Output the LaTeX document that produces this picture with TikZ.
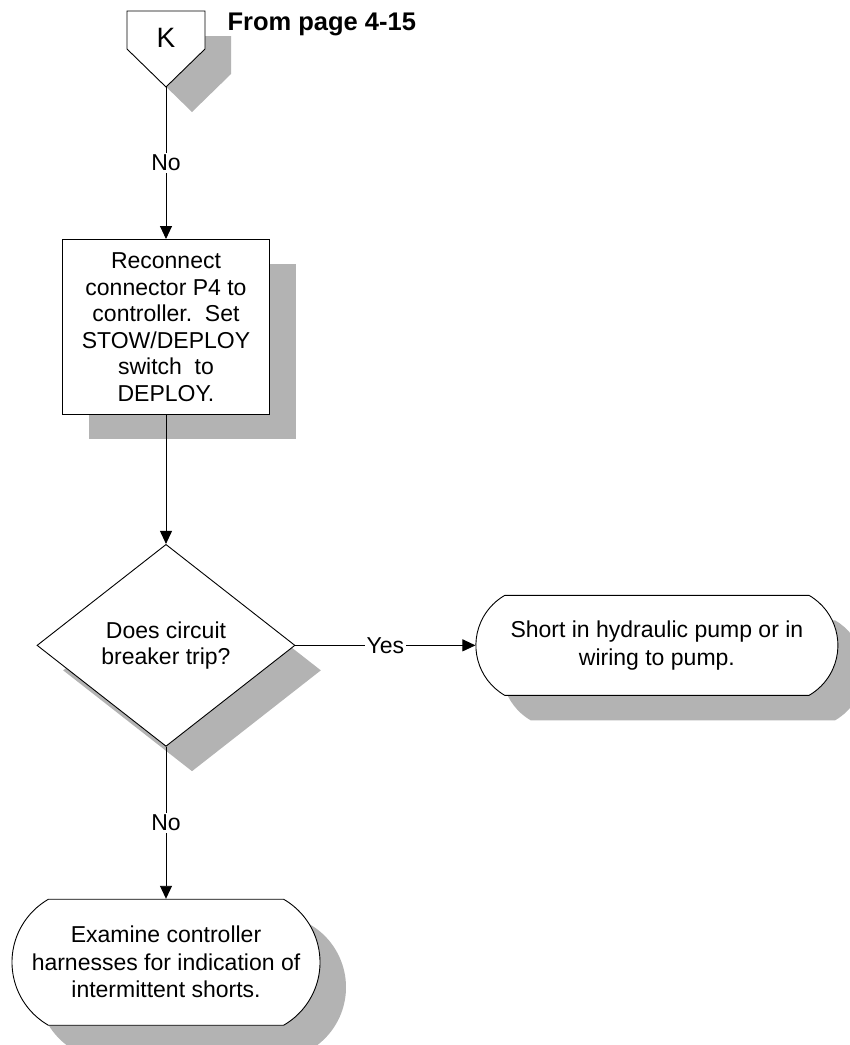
\documentclass[tikz,border=0pt]{standalone}
\usepackage{fontspec}
\setmainfont{Liberation Sans}
\usetikzlibrary{arrows.meta,positioning,shapes.geometric,shapes.misc,shadows}
\definecolor{shadegray}{RGB}{179,179,179}
\newcommand{\flowfont}{\fontsize{23}{26.5}\selectfont}
\tikzset{
  shadowed/.style={draw, fill=white, line width=0.9pt,
    drop shadow={shadow xshift=26pt, shadow yshift=-25pt, opacity=1, fill=shadegray}},
  stepbox/.style={shadowed, rectangle, minimum width=207pt, minimum height=175pt,
    align=center, font=\flowfont},
  decision/.style={shadowed, diamond, shape aspect=1.28, inner sep=0pt,
    minimum width=258pt, minimum height=202pt, align=center, font=\flowfont},
  terminal/.style={shadowed, rounded rectangle, rounded rectangle arc length=120,
    inner xsep=-20pt, align=center, font=\fontsize{23}{27.5}\selectfont},
  flow/.style={-{Triangle[length=13pt,width=12pt]}, line width=0.9pt},
  answer/.style={fill=white, inner sep=2pt, font=\flowfont}
}

\begin{document}
\begin{tikzpicture}[x=1pt,y=-1pt]
  \useasboundingbox (0,0) rectangle (850,1045);
  % off-page connector
  \draw[shadowed] (127,11) -| (205,49) -- (166,87) coordinate (Ktip) -- (127,49) -- cycle;
  \node[font=\fontsize{28}{30}\selectfont] (K) at (166,38) {K};
  \node[anchor=base west, font=\bfseries\fontsize{25.5}{28}\selectfont] (from) at (224,30) {From page 4-15};

  \node[stepbox, below=152pt of Ktip] (reconnect)
    {Reconnect\\connector P4 to\\controller.\ \ Set\\STOW/DEPLOY\\switch\ \ to\\DEPLOY.};
  \node[decision, below=129pt of reconnect] (trip) {Does circuit\\breaker trip?};
  \node[terminal, minimum width=322pt, minimum height=100pt, right=180pt of trip] (pump)
    {Short in hydraulic pump or in\\wiring to pump.};
  \node[terminal, minimum width=268pt, minimum height=126pt, below=152pt of trip] (harness)
    {Examine controller\\harnesses for indication of\\intermittent shorts.};

  \draw[flow] (Ktip) -- node[answer] {No} (reconnect.north);
  \draw[flow] (reconnect.south) -- (trip.north);
  \draw[flow] (trip.east) -- node[answer] {Yes} (pump.west);
  \draw[flow] (trip.south) -- node[answer] {No} (harness.north);
\end{tikzpicture}
\end{document}
